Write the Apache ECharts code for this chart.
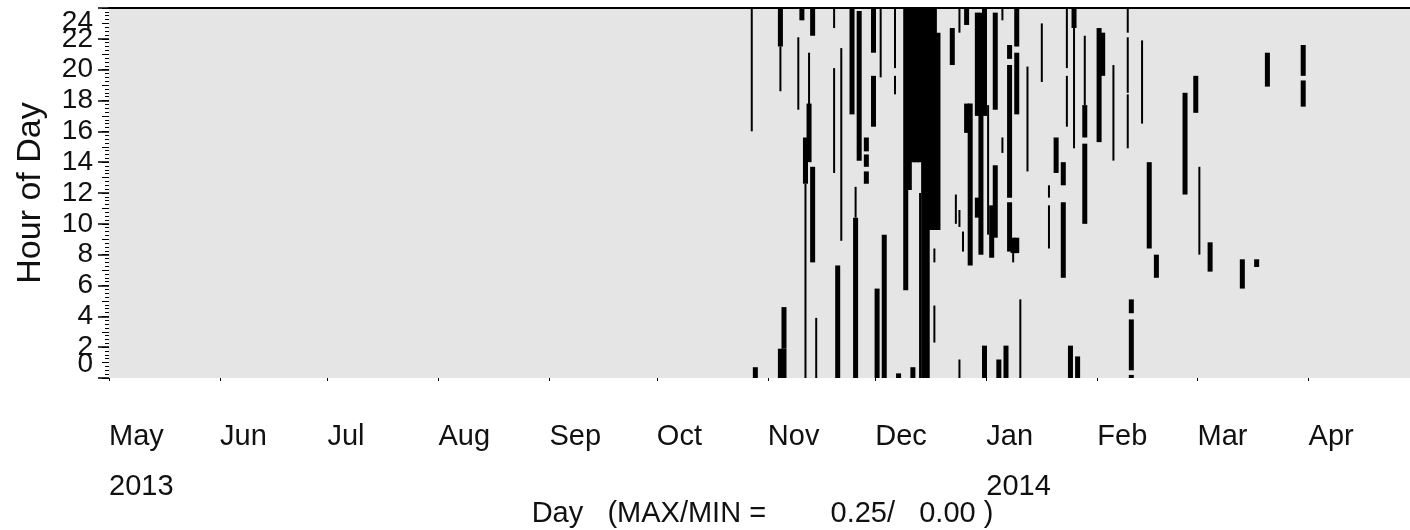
<!DOCTYPE html>
<html><head><meta charset="utf-8">
<script src="https://cdn.jsdelivr.net/npm/echarts@6/dist/echarts.min.js"></script>
<style>html,body{margin:0;padding:0;background:#fff}#c{width:1410px;height:530px}</style>
</head><body><div id="c"></div>
<script>
// Activity segments: [day, fromHour, toHour, level(1 = light, 2 = strong)]
const segOct = [
  ['2013-10-27',16.0,24,1], ['2013-10-28',0,0.7,2]
];
const segNov = [
  ['2013-11-04',21.5,24,2], ['2013-11-04',18.6,21.5,1], ['2013-11-05',1.9,4.6,2],
  ['2013-11-04',0,1.9,2], ['2013-11-05',0,1.9,2], ['2013-11-09',17.4,22.1,1],
  ['2013-11-10',23.2,24,2], ['2013-11-12',17.7,21.1,1], ['2013-11-12',14.0,17.8,2],
  ['2013-11-11',12.6,15.6,2], ['2013-11-11',0,12.6,1], ['2013-11-13',7.5,13.7,2],
  ['2013-11-13',22.2,24,2], ['2013-11-14',0,3.9,1], ['2013-11-19',22.7,24,1],
  ['2013-11-19',13.3,20.1,1], ['2013-11-20',0,7.3,2], ['2013-11-21',8.9,21.4,1],
  ['2013-11-24',17.1,24,2], ['2013-11-25',0,10.4,2], ['2013-11-25',10.4,12.4,1],
  ['2013-11-26',14.1,23.8,2], ['2013-11-28',14.7,15.6,2], ['2013-11-28',13.7,14.5,2],
  ['2013-11-28',12.6,13.4,2], ['2013-11-30',21.1,24,2], ['2013-11-30',16.3,19.6,2]
];
const segDec = [
  ['2013-12-01',0,5.8,2], ['2013-12-02',19.5,24,1], ['2013-12-03',0,9.3,2],
  ['2013-12-06',20.1,24,1], ['2013-12-06',18.4,19.6,1], ['2013-12-07',0,0.3,2],
  ['2013-12-09',5.7,24,2], ['2013-12-10',12.2,24,2], ['2013-12-11',14,24,2],
  ['2013-12-11',0,0.7,2], ['2013-12-12',14,24,2], ['2013-12-13',14,24,2],
  ['2013-12-13',0,12,1], ['2013-12-14',0,24,2], ['2013-12-15',0,24,2],
  ['2013-12-16',9.6,24,2], ['2013-12-17',9.6,24,2], ['2013-12-17',7.5,8.4,1],
  ['2013-12-17',2.3,4.7,1], ['2013-12-18',9.6,22.4,2],
  ['2013-12-22',20.3,22.7,2], ['2013-12-24',22.4,24,1], ['2013-12-26',22.9,24,2],
  ['2013-12-26',15.9,17.8,2], ['2013-12-27',7.3,17.8,2], ['2013-12-23',10.0,11.9,1],
  ['2013-12-24',9.8,10.9,1], ['2013-12-25',8.2,9.5,1], ['2013-12-24',0,1.2,1],
  ['2013-12-29',17,23.7,2], ['2013-12-29',10.4,11.7,2], ['2013-12-30',8,23.7,2],
  ['2013-12-31',17,24,2], ['2013-12-31',0,2.1,2]
];
const segJan = [
  ['2014-01-01',9.3,17.7,1], ['2014-01-02',7.8,11.2,2], ['2014-01-03',9.1,13.8,2],
  ['2014-01-03',17.4,23.7,2], ['2014-01-05',14.6,15.6,1], ['2014-01-05',23.2,24,1],
  ['2014-01-04',0,1.2,2], ['2014-01-06',0,2.1,2], ['2014-01-07',20.7,21.6,2],
  ['2014-01-07',11.7,20.3,2], ['2014-01-07',8.2,11.4,2], ['2014-01-08',8.1,9.1,2],
  ['2014-01-09',8.1,9.1,2], ['2014-01-08',7.5,8.1,1], ['2014-01-09',21.5,24,2],
  ['2014-01-09',17.1,21.1,2], ['2014-01-10',0,5.1,1], ['2014-01-12',13.4,20.2,1],
  ['2014-01-16',19.2,23,1], ['2014-01-18',11.7,12.5,1], ['2014-01-18',8.4,11.2,1],
  ['2014-01-20',13.3,15.6,2], ['2014-01-22',12.5,14,2], ['2014-01-22',6.5,11.4,2],
  ['2014-01-23',20.1,24,1], ['2014-01-23',16.3,19.6,1], ['2014-01-24',0,2.1,2],
  ['2014-01-25',22.7,24,2], ['2014-01-25',14.9,22.7,1], ['2014-01-26',0,1.4,2],
  ['2014-01-28',15.6,17.7,2], ['2014-01-28',17.7,22.2,1], ['2014-01-28',10.0,15.2,2]
];
const segFeb = [
  ['2014-02-01',15.3,22.7,2], ['2014-02-02',19.6,22.4,2], ['2014-02-05',14.1,20.3,1],
  ['2014-02-09',22.4,24,1], ['2014-02-09',18.5,22.1,1], ['2014-02-09',14.9,18.4,1],
  ['2014-02-10',4.2,5.1,2], ['2014-02-10',0.5,3.8,2], ['2014-02-10',0,0.2,2],
  ['2014-02-13',16.5,21.9,1], ['2014-02-15',8.4,14,2], ['2014-02-17',6.5,8,2],
  ['2014-02-25',11.9,18.5,2], ['2014-02-28',17.2,19.6,2]
];
const segMar = [
  ['2014-03-01',8,13.7,1], ['2014-03-04',6.9,8.8,2], ['2014-03-13',5.8,7.7,2],
  ['2014-03-17',7.2,7.7,2], ['2014-03-20',18.9,21.1,2], ['2014-03-30',19.6,21.6,2],
  ['2014-03-30',17.6,19.3,2]
];
const monthStarts = ['2013-05-01','2013-06-01','2013-07-01','2013-08-01','2013-09-01','2013-10-01',
  '2013-11-01','2013-12-01','2014-01-01','2014-02-01','2014-03-01','2014-04-01'];
const monthNames = ['May','Jun','Jul','Aug','Sep','Oct','Nov','Dec','Jan','Feb','Mar','Apr'];
const yearNames = {'2013-05-01':'2013','2014-01-01':'2014'};
const axisStart = '2013-05-01', axisEnd = '2014-05-01';
const hourMin = 0, hourMax = 24;
const hourInnerLabels = [2,4,6,8,10,12,14,16,18,20,22];
const hourEndLabels = [0,24];
const xTitle = 'Day   (MAX/MIN =        0.25/   0.00 )';
const yTitle = 'Hour of Day';

function ts(s){ const p = s.split('-').map(Number); return Date.UTC(p[0], p[1]-1, p[2]); }
const DAY = 86400000;
const monthTs = monthStarts.map(ts);
const labelMap = {};
monthStarts.forEach((m,i)=>{ labelMap[ts(m)] = monthNames[i] + (yearNames[m] ? '\n' + yearNames[m] : ''); });
const data = [].concat(segOct, segNov, segDec, segJan, segFeb, segMar).map(r => [ts(r[0]), r[1], r[2], r[3]]);

const FONT = "'Liberation Sans Narrow', 'Liberation Sans', Arial, sans-serif";
const labelStyle = {fontFamily:FONT, fontSize:28, color:'#111', margin:16};
const chart = echarts.init(document.getElementById('c'), null, {renderer:'canvas'});
chart.setOption({
  animation:false,
  backgroundColor:'#fff',
  grid:{left:109, right:-6, top:8, bottom:152, show:true, backgroundColor:'#e5e5e5', borderWidth:0,
    outerBoundsMode:'none', containLabel:false},
  xAxis:[{
    type:'value', min:ts(axisStart), max:ts(axisEnd), position:'bottom',
    axisLine:{show:false, onZero:false},
    axisTick:{show:true, customValues:monthTs, length:3, lineStyle:{color:'#000', width:1}},
    axisLabel:{customValues:monthTs, formatter:(v)=>labelMap[v] || '', align:'left', verticalAlign:'top',
      margin:34, fontFamily:FONT, fontSize:29, lineHeight:50, color:'#111',
      showMinLabel:true, showMaxLabel:true, hideOverlap:false},
    splitLine:{show:false},
    name:xTitle, nameLocation:'middle', nameGap:121, nameMoveOverlap:false,
    nameTextStyle:{fontFamily:FONT, fontSize:29, color:'#111'}
  },{
    type:'value', position:'top', min:0, max:1,
    axisLine:{show:true, onZero:false, lineStyle:{color:'#000', width:2}},
    axisTick:{show:false}, axisLabel:{show:false}, splitLine:{show:false}
  }],
  yAxis:[{
    type:'value', min:hourMin, max:hourMax, interval:2, position:'left',
    axisLine:{show:false, onZero:false},
    axisTick:{show:true, length:11, lineStyle:{color:'#000', width:1.5}},
    minorTick:{show:true, splitNumber:8, length:4, lineStyle:{color:'#000', width:1}},
    axisLabel:Object.assign({customValues:hourInnerLabels, hideOverlap:false}, labelStyle),
    splitLine:{show:false}, minorSplitLine:{show:false},
    name:yTitle, nameLocation:'middle', nameGap:61, nameRotate:90, nameMoveOverlap:false,
    nameTextStyle:{fontFamily:FONT, fontSize:34, color:'#111'}
  },{
    type:'value', min:hourMin, max:hourMax, interval:1, position:'left',
    axisLine:{show:false, onZero:false},
    axisTick:{show:true, length:7, lineStyle:{color:'#000', width:1}},
    axisLabel:{show:false}, splitLine:{show:false}
  },{
    type:'value', min:hourMin, max:hourMax, interval:24, position:'left',
    axisLine:{show:false, onZero:false}, axisTick:{show:false}, splitLine:{show:false},
    axisLabel:Object.assign({customValues:hourEndLabels, showMinLabel:true, showMaxLabel:true, hideOverlap:false,
      verticalAlignMinLabel:'bottom', verticalAlignMaxLabel:'top'}, labelStyle)
  }],
  series:[{
    type:'custom', clip:true, xAxisIndex:0, yAxisIndex:0,
    encode:{x:0, y:[1,2]},
    data:data,
    renderItem:function(params, api){
      const d = api.value(0);
      const a = api.coord([d, api.value(2)]);
      const b = api.coord([d + DAY, api.value(1)]);
      const dayW = b[0] - a[0];
      const w = api.value(3) >= 2 ? dayW * 1.4 : 2;
      const cx = (a[0] + b[0]) / 2;
      return {type:'rect', shape:{x:cx - w/2, y:a[1], width:w, height:b[1]-a[1]}, style:{fill:'#000'}};
    }
  }]
});
</script></body></html>
